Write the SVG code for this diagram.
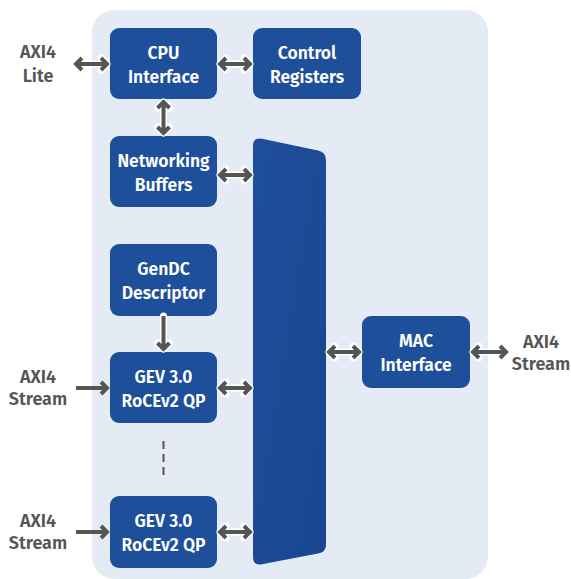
<svg xmlns="http://www.w3.org/2000/svg" width="571" height="579" viewBox="0 0 571 579">
<style>
.node rect{fill:#1e4f9b}
.nt{font-family:"Fira Sans","Open Sans","Noto Sans",sans-serif;font-weight:600;font-size:17.5px;fill:#fff;text-anchor:middle}
.lbl{font-family:"Fira Sans","Open Sans","Noto Sans",sans-serif;font-weight:600;font-size:18px;fill:#555;text-anchor:middle}
.halo{fill:none;stroke:#fff;stroke-width:7;stroke-linejoin:round;stroke-linecap:round}
.ar{fill:none;stroke:#555;stroke-width:4;stroke-linejoin:miter}
.dash{fill:none;stroke:#555;stroke-width:2;stroke-dasharray:8 5}
</style>
<defs>
<linearGradient id="mg" x1="0" y1="0" x2="1" y2="1">
<stop offset="0" stop-color="#1e4f9c"/>
<stop offset="1" stop-color="#1a4690"/>
</linearGradient>
</defs>
<rect id="panel" x="92" y="10" width="396" height="569" rx="22" fill="#e5ebf5"/>

<g id="cpu" class="node"><rect x="110" y="28" width="107" height="71" rx="9"/><text class="nt" x="163.5" y="59">CPU</text><text class="nt" x="163.5" y="83">Interface</text></g>
<g id="ctrl" class="node"><rect x="253" y="28" width="108" height="71" rx="9"/><text class="nt" x="307" y="59">Control</text><text class="nt" x="307" y="83">Registers</text></g>
<g id="netbuf" class="node"><rect x="110" y="136" width="107" height="71" rx="9"/><text class="nt" x="163.5" y="167">Networking</text><text class="nt" x="163.5" y="191">Buffers</text></g>
<g id="gendc" class="node"><rect x="110" y="244" width="107" height="72" rx="9"/><text class="nt" x="163.5" y="275">GenDC</text><text class="nt" x="163.5" y="299">Descriptor</text></g>
<g id="qp1" class="node"><rect x="110" y="352" width="107" height="71" rx="9"/><text class="nt" x="163.5" y="383">GEV 3.0</text><text class="nt" x="163.5" y="407">RoCEv2 QP</text></g>
<g id="qp2" class="node"><rect x="110" y="496" width="107" height="72" rx="9"/><text class="nt" x="163.5" y="527">GEV 3.0</text><text class="nt" x="163.5" y="551">RoCEv2 QP</text></g>
<g id="mac" class="node"><rect x="362" y="316" width="108" height="72" rx="9"/><text class="nt" x="416" y="347">MAC</text><text class="nt" x="416" y="371">Interface</text></g>
<g id="mux"><path d="M253 146 Q253 137 262 138.7 L318 150.5 Q326 152 326 160 L326 545 Q326 552 318 553.5 L262 564.3 Q253 566 253 557 Z" fill="url(#mg)"/></g>

<g id="labels">
<text class="lbl" x="38" y="58">AXI4</text><text class="lbl" x="38" y="82">Lite</text>
<text class="lbl" x="38" y="383">AXI4</text><text class="lbl" x="38" y="405">Stream</text>
<text class="lbl" x="38" y="527">AXI4</text><text class="lbl" x="38" y="549">Stream</text>
<text class="lbl" x="541" y="348">AXI4</text><text class="lbl" x="541" y="370">Stream</text>
</g>

<g id="connectors">
<path class="halo" d="M76 64 H107 M82 58 L76 64 L82 70 M101 58 L107 64 L101 70"/>
<path class="ar" d="M76 64 H107 M82 58 L76 64 L82 70 M101 58 L107 64 L101 70"/>
<path class="halo" d="M220 64 H250 M226 58 L220 64 L226 70 M244 58 L250 64 L244 70"/>
<path class="ar" d="M220 64 H250 M226 58 L220 64 L226 70 M244 58 L250 64 L244 70"/>
<path class="halo" d="M163.5 102 V133 M157.5 108 L163.5 102 L169.5 108 M157.5 127 L163.5 133 L169.5 127"/>
<path class="ar" d="M163.5 102 V133 M157.5 108 L163.5 102 L169.5 108 M157.5 127 L163.5 133 L169.5 127"/>
<path class="halo" d="M220 175 H250 M226 169 L220 175 L226 181 M244 169 L250 175 L244 181"/>
<path class="ar" d="M220 175 H250 M226 169 L220 175 L226 181 M244 169 L250 175 L244 181"/>
<path class="halo" d="M163.5 316 V349 M157.5 343 L163.5 349 L169.5 343"/>
<path class="ar" d="M163.5 316 V349 M157.5 343 L163.5 349 L169.5 343"/>
<path class="ar" d="M76 388 H107 M101 382 L107 388 L101 394"/>
<path class="halo" d="M220 388 H250 M226 382 L220 388 L226 394 M244 382 L250 388 L244 394"/>
<path class="ar" d="M220 388 H250 M226 382 L220 388 L226 394 M244 382 L250 388 L244 394"/>
<path class="dash" d="M163.5 441 V479"/>
<path class="ar" d="M76 532 H107 M101 526 L107 532 L101 538"/>
<path class="halo" d="M220 532 H250 M226 526 L220 532 L226 538 M244 526 L250 532 L244 538"/>
<path class="ar" d="M220 532 H250 M226 526 L220 532 L226 538 M244 526 L250 532 L244 538"/>
<path class="halo" d="M329 352 H359 M335 346 L329 352 L335 358 M353 346 L359 352 L353 358"/>
<path class="ar" d="M329 352 H359 M335 346 L329 352 L335 358 M353 346 L359 352 L353 358"/>
<path class="halo" d="M473 352 H506 M479 346 L473 352 L479 358 M500 346 L506 352 L500 358"/>
<path class="ar" d="M473 352 H506 M479 346 L473 352 L479 358 M500 346 L506 352 L500 358"/>
</g>
</svg>
